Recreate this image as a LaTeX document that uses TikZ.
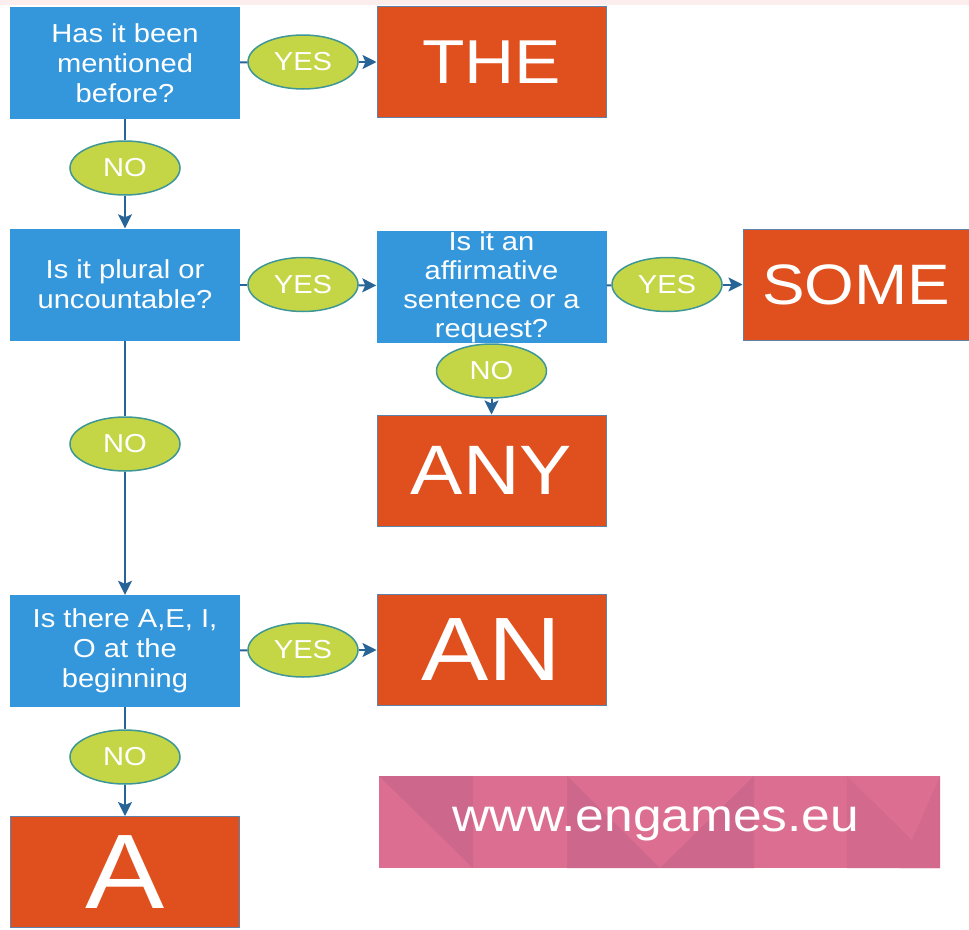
\documentclass[tikz,border=0pt]{standalone}
\usepackage{fontspec}
\setmainfont[FakeStretch=1.12]{Liberation Sans}
\usetikzlibrary{shapes.geometric,arrows.meta}

\definecolor{frageblau}{RGB}{53,151,219}
\definecolor{antwortrot}{RGB}{224,80,30}
\definecolor{randblau}{RGB}{95,130,170}
\definecolor{jngruen}{RGB}{196,214,70}
\definecolor{jnrand}{RGB}{62,150,150}
\definecolor{pfeilblau}{RGB}{40,100,150}
\definecolor{bannerrosa}{RGB}{220,110,146}
\definecolor{bannerdunkel}{RGB}{205,104,140}
\definecolor{streifen}{RGB}{252,238,236}

\begin{document}
\begin{tikzpicture}[x=1pt,y=-1pt,
	frage/.style={fill=frageblau, minimum width=230, minimum height=112, inner sep=0,
		text=white, align=center, font=\fontsize{26}{30}\selectfont},
	antwort/.style={fill=antwortrot, draw=randblau, line width=1, minimum width=229,
		minimum height=111, inner sep=0, text=white},
	jn/.style={ellipse, fill=jngruen, draw=jnrand, line width=1.5, minimum width=110,
		minimum height=54, inner sep=0, text=white, font=\fontsize{26}{28}\selectfont},
	pfeil/.style={draw=pfeilblau, line width=2},
	>={Stealth[length=14,width=14,inset=3]}]
			% Rahmen
			\useasboundingbox (0,0) rectangle (969,929);
			\fill[streifen] (0,0) rectangle (969,5);
			
			% Fragen zeichnen
			\node[frage] (q1) at (125,63) {Has it been\\mentioned\\before?};
			\node[frage] (q2) at (125,284.5) {Is it plural or\\uncountable?};
			\node[frage, font=\fontsize{26}{29}\selectfont] (q3) at (491.5,287) {Is it an\\affirmative\\sentence or a\\request?};
			\node[frage] (q4) at (125,651) {Is there A,E, I,\\O at the\\beginning};
			
			% Antworten zeichnen
			\node[antwort, font=\fontsize{62}{62}\selectfont] (the) at (491.5,62) {THE};
			\node[antwort, minimum width=226, font=\fontsize{57}{57}\selectfont] (some) at (856,284.5) {SOME};
			\node[antwort, font=\fontsize{70}{70}\selectfont] (any) at (491.5,470.5) {ANY};
			\node[antwort, font=\fontsize{90}{90}\selectfont] (an) at (491.5,650) {AN};
			\node[antwort, font=\fontsize{106}{106}\selectfont] (a) at (125,872) {A};
			
			% Ja/Nein eintragen
			\node[jn] (yes1) at (303,62) {YES};
			\node[jn] (no1) at (125,168) {NO};
			\node[jn] (yes2) at (303,284.5) {YES};
			\node[jn] (yes3) at (667,284.5) {YES};
			\node[jn] (no3) at (491.5,371) {NO};
			\node[jn] (no2) at (125,444) {NO};
			\node[jn] (yes4) at (303,650) {YES};
			\node[jn] (no4) at (125,757) {NO};
			
			% Pfeile zeichnen
			\draw[pfeil] (q1) -- (yes1);
			\draw[pfeil,->] (yes1) -- (the);
			\draw[pfeil] (q1) -- (no1);
			\draw[pfeil,->] (no1) -- (q2);
			\draw[pfeil] (q2) -- (yes2);
			\draw[pfeil,->] (yes2) -- (q3);
			\draw[pfeil] (q3) -- (yes3);
			\draw[pfeil,->] (yes3) -- (some);
			\draw[pfeil,->] (no3) -- (any);
			\draw[pfeil] (q2) -- (no2);
			\draw[pfeil,->] (no2) -- (q4);
			\draw[pfeil] (q4) -- (yes4);
			\draw[pfeil,->] (yes4) -- (an);
			\draw[pfeil] (q4) -- (no4);
			\draw[pfeil,->] (no4) -- (a);
			
			% Banner
			\fill[bannerrosa] (379,776) rectangle (940,868);
			\fill[bannerdunkel] (379,776) -- (473,776) -- (473,868) -- cycle;
			\fill[bannerdunkel] (567,776) -- (567,868) -- (660,868) -- cycle;
			\fill[bannerdunkel] (754,776) -- (660,868) -- (754,868) -- cycle;
			\fill[bannerdunkel!60!bannerrosa] (847,776) -- (847,868) -- (940,868) -- cycle;
			\fill[bannerdunkel!60!bannerrosa] (940,776) -- (940,868) -- (900,868) -- cycle;
			\node[text=white, font=\fontsize{46}{46}\selectfont] (web) at (656,824) {www.engames.eu};
	\end{tikzpicture}
\end{document}
